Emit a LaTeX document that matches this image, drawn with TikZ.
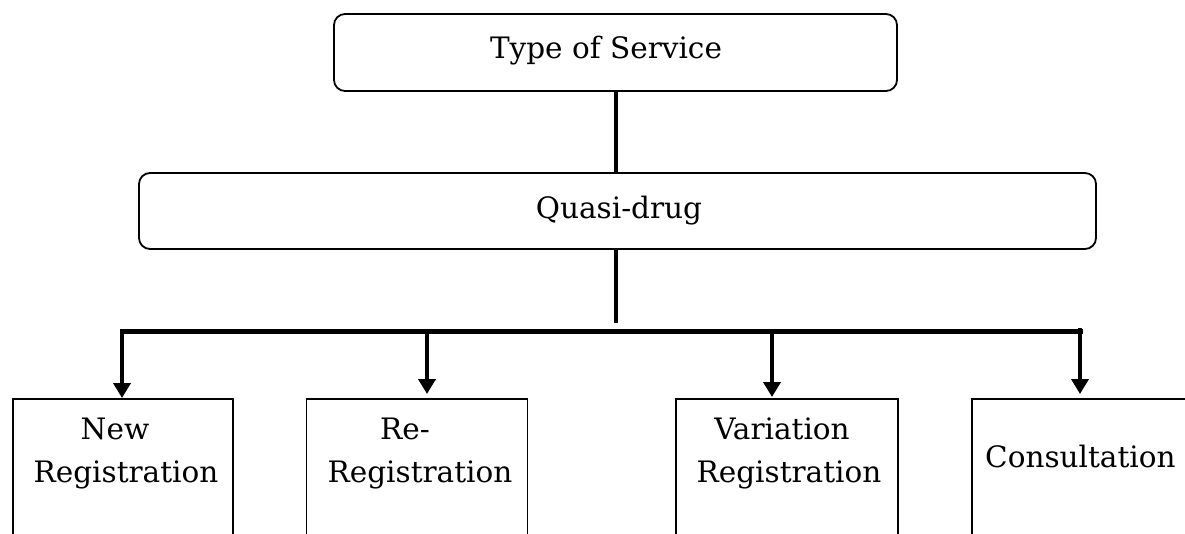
\documentclass[tikz,border=0pt]{standalone}
\usepackage{fontspec}
\setmainfont{DejaVu Serif}
\usetikzlibrary{arrows.meta}
\begin{document}
\begin{tikzpicture}[x=1pt,y=-1pt,
  roundbox/.style={draw, line width=1.8pt, rounded corners=11pt, inner sep=0pt},
  leafbox/.style={draw, line width=1.8pt, inner sep=0pt, minimum height=170pt, anchor=north west},
  caption/.style={inner sep=0pt, anchor=base, font=\fontsize{29.5}{43}\selectfont},
  trunk/.style={line width=4.4pt},
  feed/.style={line width=4.4pt, -{Triangle[length=15pt,width=17pt]}},
]
\useasboundingbox (0,0) rectangle (1185,533);
\clip (0,0) rectangle (1185,533);

% upper levels
\node[roundbox, minimum width=563pt, minimum height=77pt] (service) at (615.5,52.5) {};
\node[roundbox, minimum width=957pt, minimum height=76pt] (quasi) at (617.5,211) {};
\node[caption] (serviceText) at (606,58) {Type of Service};
\node[caption] (quasiText) at (619,218) {Quasi-drug};

% service categories (boxes run past the lower edge)
\node[leafbox, minimum width=220pt] (newreg) at (11.7,398) {};
\node[leafbox, minimum width=221pt] (rereg) at (305.5,398) {};
\node[leafbox, minimum width=222pt] (varreg) at (675,398) {};
\node[leafbox, minimum width=220pt] (consult) at (971,398) {};

\node[caption] (newA) at (115,439) {New};
\node[caption] (newB) at (126,482) {Registration};
\node[caption] (reA) at (405,439) {Re-};
\node[caption] (reB) at (420,482) {Registration};
\node[caption] (varA) at (782,439) {Variation};
\node[caption] (varB) at (789,482) {Registration};
\node[caption, anchor=base west] (consultText) at (985,467) {Consultation};

% junction points
\coordinate (stubEnd) at (616,323);
\coordinate (barL) at (120,331.5);
\coordinate (barR) at (1083,331.5);
\coordinate (d1) at (122,329.5);
\coordinate (d2) at (427,329.5);
\coordinate (d3) at (772,329.5);
\coordinate (d4) at (1080,328);

% connectors
\draw[trunk] (service.south -| stubEnd) -- (quasi.north -| stubEnd);
\draw[trunk] (quasi.south -| stubEnd) -- (stubEnd);
\draw[trunk] (barL) -- (barR);
\draw[feed] (d1) -- (d1 |- newreg.north);
\draw[feed] (d2) -- ([yshift=4pt]d2 |- rereg.north);
\draw[feed] (d3) -- ([yshift=1pt]d3 |- varreg.north);
\draw[feed] (d4) -- ([yshift=4pt]d4 |- consult.north);
\end{tikzpicture}
\end{document}
